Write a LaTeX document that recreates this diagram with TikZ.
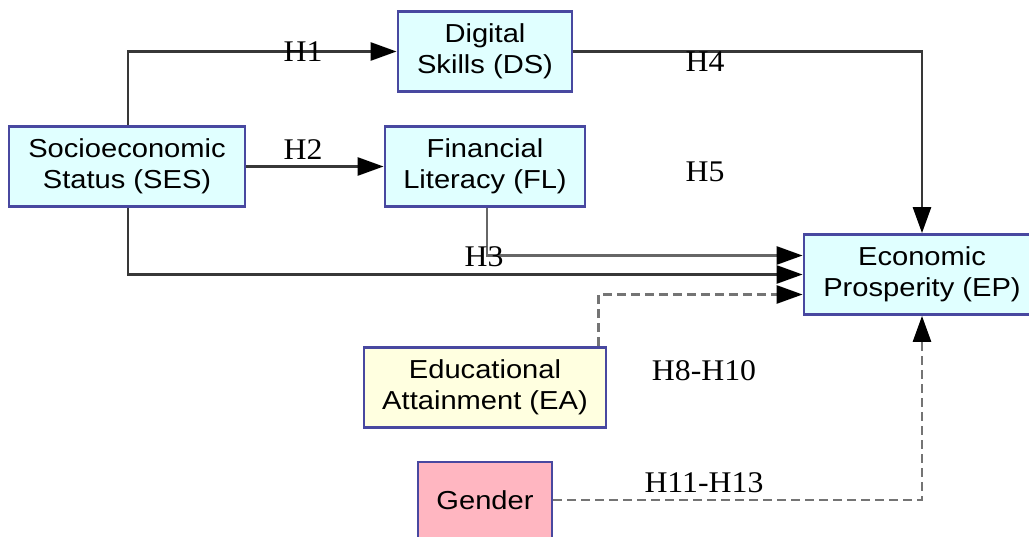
\documentclass[tikz,border=0pt]{standalone}
\usepackage{fontspec}
\usetikzlibrary{arrows.meta,calc}
\newfontfamily\boxfont[FakeStretch=1.12]{Liberation Sans}
\newfontfamily\lblfont[FakeStretch=1.06]{Liberation Serif}
\definecolor{boxborder}{HTML}{4848A0}
\definecolor{cyanfill}{HTML}{E0FFFF}
\definecolor{yellowfill}{HTML}{FFFFE0}
\definecolor{pinkfill}{HTML}{FFB6C1}
\definecolor{darkline}{HTML}{383838}
\definecolor{greyline}{HTML}{666666}
\definecolor{dashline}{HTML}{747474}
\tikzset{
  varbox/.style={rectangle, draw=boxborder, line width=2.8pt, inner sep=0pt,
    align=center, font=\boxfont\fontsize{26}{31}\selectfont},
  hlabel/.style={inner sep=0pt, font=\lblfont\fontsize{30}{32}\selectfont},
  tip/.style={-{Triangle[length=26pt,width=18pt,color=black]}},
  solidlink/.style={tip, line width=2.7pt, draw=darkline},
  greylink/.style={tip, line width=2.7pt, draw=greyline},
  dashlink/.style={tip, line width=2.7pt, draw=dashline, dash pattern=on 9pt off 5pt},
}
\begin{document}
\begin{tikzpicture}[x=1pt,y=-1pt]
\useasboundingbox (0,0) rectangle (1029,536);
\node[varbox, fill=cyanfill, minimum width=236pt, minimum height=80pt] (ses) at (127,166.5) {Socioeconomic\\Status (SES)};
\node[varbox, fill=cyanfill, minimum width=174pt, minimum height=80pt] (ds) at (485,51.5) {Digital\\Skills (DS)};
\node[varbox, fill=cyanfill, minimum width=200pt, minimum height=80pt] (fl) at (485,166.5) {Financial\\Literacy (FL)};
\node[varbox, fill=cyanfill, minimum width=236pt, minimum height=80pt] (ep) at (922,274.5) {Economic\\Prosperity (EP)};
\node[varbox, fill=yellowfill, minimum width=242pt, minimum height=80pt] (ea) at (485,387.5) {Educational\\Attainment (EA)};
\node[varbox, fill=pinkfill, minimum width=134pt, minimum height=76pt] (gender) at (485,500) {Gender};

\draw[solidlink] ([xshift=1pt]ses.north) |- (ds.west);
\draw[solidlink] (ses.east) -- (fl.west);
\draw[solidlink] (ds.east) -| (ep.north);
\draw[greylink] ([xshift=2pt]fl.south) |- ([yshift=19pt]ep.west);
\draw[solidlink] ([xshift=1pt]ses.south) |- (ep.west);
\draw[dashlink] ([xshift=-9pt]ea.north east) |- ([yshift=-20pt]ep.west);
\draw[dashlink] (gender.east) -| (ep.south);

\node[hlabel] (h1) at (303,52) {H1};
\node[hlabel] (h2) at (303,150) {H2};
\node[hlabel] (h3) at (484,257) {H3};
\node[hlabel] (h4) at (705,62) {H4};
\node[hlabel] (h5) at (705,172) {H5};
\node[hlabel] (h8) at (704,371) {H8-H10};
\node[hlabel] (h11) at (704,483) {H11-H13};
\end{tikzpicture}
\end{document}
